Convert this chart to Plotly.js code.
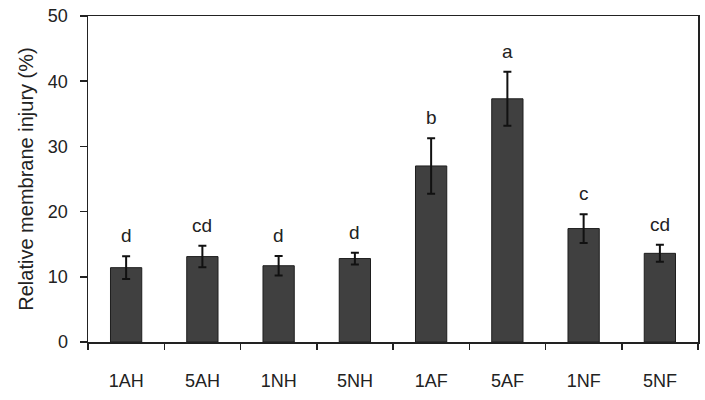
<!DOCTYPE html>
<html>
<head>
<meta charset="utf-8">
<script src="https://cdn.plot.ly/plotly-3.0.1.min.js"></script>
<style>
  body { margin: 0; background: #fff; }
  #chart { width: 705px; height: 400px; }
</style>
</head>
<body>
<div id="chart"></div>
<script>
const treatments = ['1AH', '5AH', '1NH', '5NH', '1AF', '5AF', '1NF', '5NF'];
const injury = [11.4, 13.1, 11.7, 12.8, 27.0, 37.3, 17.4, 13.6];
const injuryErr = [1.75, 1.65, 1.5, 0.9, 4.25, 4.15, 2.2, 1.3];
const letters = ['d', 'cd', 'd', 'd', 'b', 'a', 'c', 'cd'];

const trace = {
    x: treatments,
    y: injury,
    type: 'bar',
    width: 0.41,
    marker: {color: '#404040', line: {color: '#1e1e1e', width: 1}},
    error_y: {type: 'data', array: injuryErr, visible: true, color: '#111', thickness: 2, width: 4},
    hoverinfo: 'none'
};

// significance letters above each error bar
const annotations = treatments.map((t, i) => ({
    x: t,
    y: injury[i] + injuryErr[i],
    text: letters[i],
    showarrow: false,
    yanchor: 'bottom',
    yshift: 8,
    font: {size: 19}
}));

const layout = {
    width: 705,
    height: 400,
    font: {family: 'Liberation Sans, Arial, sans-serif', color: '#222'},
    paper_bgcolor: '#fff',
    plot_bgcolor: '#fff',
    showlegend: false,
    margin: {l: 88, r: 7, t: 16, b: 58},
    xaxis: {
        type: 'category',
        tickson: 'boundaries',
        ticks: 'outside',
        ticklen: 6,
        tickwidth: 1.5,
        tickcolor: '#222',
        showline: true,
        linecolor: '#222',
        linewidth: 1.5,
        mirror: true,
        showgrid: false,
        ticklabelstandoff: 22,
        tickfont: {size: 18}
    },
    yaxis: {
        range: [0, 50],
        dtick: 10,
        ticks: 'outside',
        ticklen: 7,
        tickwidth: 1.5,
        tickcolor: '#222',
        showline: true,
        linecolor: '#222',
        linewidth: 1.5,
        mirror: true,
        showgrid: false,
        zeroline: false,
        ticklabelstandoff: 8,
        tickfont: {size: 18},
        title: {text: 'Relative membrane injury (%)', font: {size: 20}, standoff: 9}
    },
    annotations: annotations
};

Plotly.newPlot('chart', [trace], layout, {displayModeBar: false, staticPlot: true});
</script>
</body>
</html>
